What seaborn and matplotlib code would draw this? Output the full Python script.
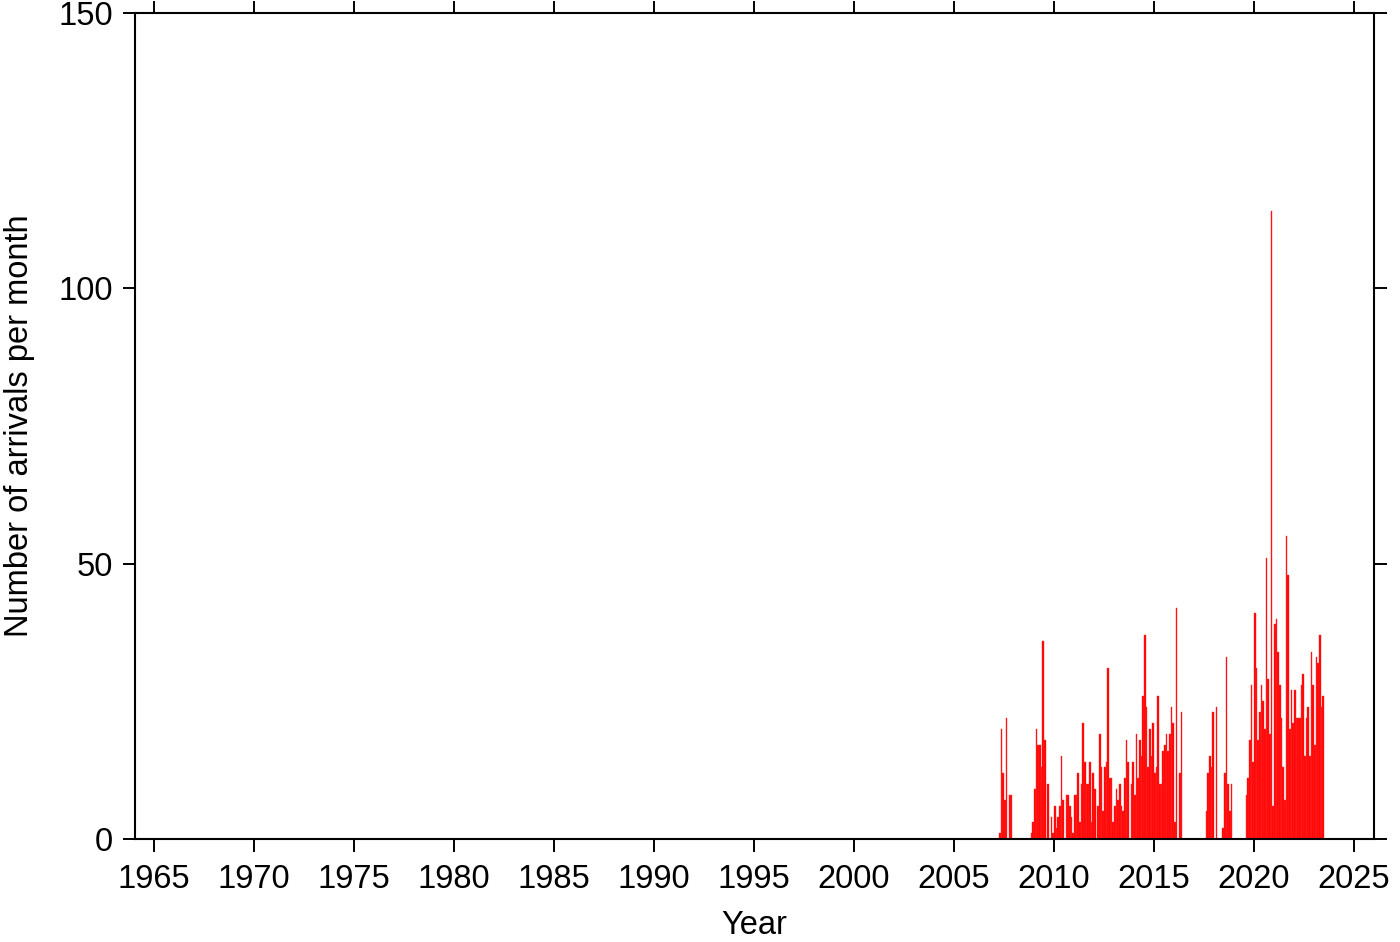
import numpy as np
import pandas as pd
import matplotlib
matplotlib.use('Agg')
import matplotlib.pyplot as plt
import seaborn as sns

# monthly arrival counts, Jan..Dec
years = list(range(2007, 2024))
counts = {
    2007: [0, 0, 0, 1, 20, 12, 7, 22, 0, 8, 8, 0],
    2008: [0, 0, 0, 0, 0, 0, 0, 0, 0, 0, 1, 3],
    2009: [9, 20, 17, 17, 13, 36, 18, 0, 10, 0, 4, 1],
    2010: [6, 2, 4, 6, 15, 7, 0, 8, 8, 6, 4, 1],
    2011: [8, 8, 12, 3, 10, 21, 14, 10, 10, 14, 3, 12],
    2012: [9, 0, 6, 19, 13, 5, 13, 14, 31, 11, 11, 3],
    2013: [6, 9, 7, 10, 6, 5, 11, 18, 14, 0, 10, 14],
    2014: [8, 19, 11, 18, 15, 26, 37, 24, 13, 20, 15, 21],
    2015: [12, 13, 26, 10, 10, 16, 17, 19, 16, 19, 24, 21],
    2016: [3, 42, 0, 12, 23, 0, 0, 0, 0, 0, 0, 0],
    2017: [0, 0, 0, 0, 0, 0, 0, 5, 12, 15, 13, 23],
    2018: [0, 24, 0, 0, 0, 2, 12, 33, 10, 5, 10, 0],
    2019: [0, 0, 0, 0, 0, 0, 0, 8, 11, 18, 28, 14],
    2020: [41, 31, 18, 23, 28, 25, 20, 51, 29, 19, 114, 6],
    2021: [39, 40, 34, 28, 22, 13, 7, 55, 48, 20, 27, 21],
    2022: [27, 22, 22, 22, 28, 30, 15, 22, 24, 15, 34, 28],
    2023: [17, 33, 32, 37, 24, 26],
}
xticks = list(range(1965, 2030, 5))
yticks = [0, 50, 100, 150]

rows = []
for y in years:
    for m, c in enumerate(counts[y]):
        rows.append((y + (m + 0.5) / 12, c))
df = pd.DataFrame(rows, columns=['t', 'n'])
nmonths = len(df)

sns.set_style('ticks')
plt.rcParams['font.family'] = ['Liberation Sans', 'DejaVu Sans']
plt.rcParams['text.color'] = 'black'
plt.rcParams['axes.labelcolor'] = 'black'

fig = plt.figure(figsize=(14, 9.42), dpi=100)
ax = fig.add_axes([135 / 1400, 1 - 839 / 942, 1239 / 1400, 826 / 942])

sns.histplot(data=df, x='t', weights='n', binwidth=1 / 12,
             binrange=(2007, 2007 + nmonths / 12), color='#ff0000',
             edgecolor='#ff3030', alpha=1, linewidth=0.3, shrink=0.85, ax=ax)

ax.set_xlim(1964.05, 2026.0)
ax.set_ylim(0, 150)
ax.set_xticks(xticks)
ax.set_yticks(yticks)
ax.tick_params(axis='both', direction='out', length=9, width=1.4,
               labelsize=23.5, top=True, right=True, colors='black',
               labeltop=False, labelright=False)
ax.tick_params(axis='x', pad=9)
ax.tick_params(axis='y', pad=7)
for s in ax.spines.values():
    s.set_linewidth(1.5)
    s.set_color('black')
    s.set_visible(True)
ax.set_xlabel('Year', fontsize=23.5, labelpad=11)
ax.set_ylabel('Number of arrivals per month', fontsize=23.5, labelpad=17)

fig.savefig('out.png', dpi=100)
